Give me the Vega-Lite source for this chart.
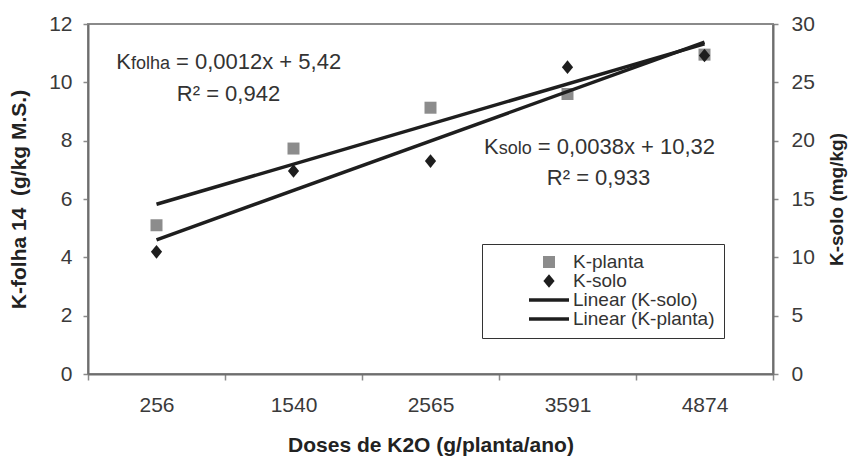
{
  "$schema": "https://vega.github.io/schema/vega-lite/v6.json",
  "width": 685,
  "height": 350,
  "autosize": {"type": "none"},
  "padding": {"left": 88, "top": 24, "right": 77, "bottom": 82},
  "background": "white",
  "config": {
    "font": "Liberation Sans",
    "view": {"stroke": "#8a8a8a", "strokeWidth": 2},
    "axis": {
      "grid": false,
      "domainColor": "#6e6e6e",
      "domainWidth": 2,
      "tickColor": "#8a8a8a",
      "tickWidth": 1.5,
      "labelFont": "Liberation Sans",
      "labelFontSize": 21,
      "labelColor": "#3a3a3a",
      "titleFont": "Liberation Sans",
      "titleFontSize": 21,
      "titleFontWeight": "bold",
      "titleColor": "#222222"
    },
    "text": {"font": "Liberation Sans", "color": "#333333"}
  },
  "datasets": {
    "points": [
      {"dose": 256, "series": "K-planta", "value": 5.1},
      {"dose": 1540, "series": "K-planta", "value": 7.73},
      {"dose": 2565, "series": "K-planta", "value": 9.13},
      {"dose": 3591, "series": "K-planta", "value": 9.6},
      {"dose": 4874, "series": "K-planta", "value": 10.95},
      {"dose": 256, "series": "K-solo", "value": 10.47},
      {"dose": 1540, "series": "K-solo", "value": 17.4},
      {"dose": 2565, "series": "K-solo", "value": 18.25},
      {"dose": 3591, "series": "K-solo", "value": 26.3},
      {"dose": 4874, "series": "K-solo", "value": 27.3}
    ],
    "trends": [
      {"dose": 256, "series": "Linear (K-planta)", "value": 5.82},
      {"dose": 4874, "series": "Linear (K-planta)", "value": 11.32},
      {"dose": 256, "series": "Linear (K-solo)", "value": 11.5},
      {"dose": 4874, "series": "Linear (K-solo)", "value": 28.45}
    ],
    "notes": [
      {"id": "k1", "dose": 256, "value": 10.47, "text": "K"},
      {"id": "sub1", "dose": 256, "value": 10.47, "text": "folha"},
      {"id": "eq1", "dose": 256, "value": 10.47, "text": "= 0,0012x + 5,42"},
      {"id": "r1", "dose": 256, "value": 9.36, "text": "R² = 0,942"},
      {"id": "k2", "dose": 3591, "value": 7.56, "text": "K"},
      {"id": "sub2", "dose": 3591, "value": 7.56, "text": "solo"},
      {"id": "eq2", "dose": 3591, "value": 7.56, "text": "= 0,0038x + 10,32"},
      {"id": "r2", "dose": 3591, "value": 6.47, "text": "R² = 0,933"}
    ]
  },
  "encoding": {
    "x": {
      "field": "dose",
      "type": "ordinal",
      "scale": {"type": "band", "paddingInner": 0, "paddingOuter": 0},
      "axis": {
        "title": "Doses de K2O (g/planta/ano)",
        "tickBand": "extent",
        "labelAngle": 0,
        "tickSize": 6,
        "labelPadding": 14,
        "titlePadding": 19
      }
    }
  },
  "layer": [
    {
      "encoding": {
        "y": {
          "field": "value",
          "type": "quantitative",
          "scale": {"domain": [0, 12]},
          "axis": {
            "title": "K-folha 14\u00a0 (g/kg M.S.)",
            "values": [0, 2, 4, 6, 8, 10, 12],
            "tickSize": 5,
            "labelPadding": 11,
            "titlePadding": 19
          }
        }
      },
      "layer": [
        {
          "data": {"name": "trends"},
          "transform": [{"filter": "datum.series === 'Linear (K-planta)'"}],
          "mark": {"type": "line", "stroke": "#1e1e1e", "strokeWidth": 3.5},
          "encoding": {}
        },
        {
          "data": {"name": "points"},
          "transform": [{"filter": "datum.series === 'K-planta'"}],
          "mark": {"type": "point", "filled": true, "size": 1600, "opacity": 1, "strokeWidth": 0},
          "encoding": {
            "color": {
              "field": "series",
              "type": "nominal",
              "scale": {
                "domain": ["K-planta", "K-solo", "Linear (K-solo)", "Linear (K-planta)"],
                "range": ["#8c8c8c", "#1e1e1e", "#1e1e1e", "#1e1e1e"]
              },
              "legend": {
                "title": null,
                "orient": "none",
                "legendX": 394,
                "legendY": 220,
                "symbolSize": 1600,
                "symbolStrokeWidth": 0,
                "symbolOffset": 38,
                "labelOffset": 4,
                "clipHeight": 18,
                "rowPadding": -1,
                "padding": 9,
                "labelFont": "Liberation Sans",
                "labelFontSize": 19,
                "labelColor": "#333333",
                "strokeColor": "#333333"
              }
            },
            "shape": {
              "field": "series",
              "type": "nominal",
              "scale": {
                "domain": ["K-planta", "K-solo", "Linear (K-solo)", "Linear (K-planta)"],
                "range": [
                  "M-0.3,-0.3L0.3,-0.3L0.3,0.3L-0.3,0.3Z",
                  "M0,-0.34L0.28,0L0,0.34L-0.28,0Z",
                  "M-1,-0.09L1,-0.09L1,0.09L-1,0.09Z",
                  "M-1,-0.09L1,-0.09L1,0.09L-1,0.09Z"
                ]
              },
              "legend": {
                "title": null,
                "orient": "none",
                "legendX": 394,
                "legendY": 220,
                "symbolSize": 1600,
                "symbolStrokeWidth": 0,
                "symbolOffset": 38,
                "labelOffset": 4,
                "clipHeight": 18,
                "rowPadding": -1,
                "padding": 9,
                "labelFont": "Liberation Sans",
                "labelFontSize": 19,
                "labelColor": "#333333",
                "strokeColor": "#333333"
              }
            }
          }
        },
        {
          "data": {"name": "notes"},
          "transform": [{"filter": "datum.id === 'k1'"}],
          "mark": {"type": "text", "align": "right", "baseline": "alphabetic", "dx": -25.5, "fontSize": 22},
          "encoding": {"text": {"field": "text"}}
        },
        {
          "data": {"name": "notes"},
          "transform": [{"filter": "datum.id === 'sub1'"}],
          "mark": {"type": "text", "align": "right", "baseline": "alphabetic", "dx": 13.5, "fontSize": 18},
          "encoding": {"text": {"field": "text"}}
        },
        {
          "data": {"name": "notes"},
          "transform": [{"filter": "datum.id === 'eq1'"}],
          "mark": {"type": "text", "align": "left", "baseline": "alphabetic", "dx": 19.5, "fontSize": 22},
          "encoding": {"text": {"field": "text"}}
        },
        {
          "data": {"name": "notes"},
          "transform": [{"filter": "datum.id === 'r1'"}],
          "mark": {"type": "text", "align": "center", "baseline": "alphabetic", "dx": 72, "fontSize": 22},
          "encoding": {"text": {"field": "text"}}
        },
        {
          "data": {"name": "notes"},
          "transform": [{"filter": "datum.id === 'k2'"}],
          "mark": {"type": "text", "align": "right", "baseline": "alphabetic", "dx": -68.8, "fontSize": 22},
          "encoding": {"text": {"field": "text"}}
        },
        {
          "data": {"name": "notes"},
          "transform": [{"filter": "datum.id === 'sub2'"}],
          "mark": {"type": "text", "align": "right", "baseline": "alphabetic", "dx": -35.8, "fontSize": 18},
          "encoding": {"text": {"field": "text"}}
        },
        {
          "data": {"name": "notes"},
          "transform": [{"filter": "datum.id === 'eq2'"}],
          "mark": {"type": "text", "align": "left", "baseline": "alphabetic", "dx": -29.8, "fontSize": 22},
          "encoding": {"text": {"field": "text"}}
        },
        {
          "data": {"name": "notes"},
          "transform": [{"filter": "datum.id === 'r2'"}],
          "mark": {"type": "text", "align": "center", "baseline": "alphabetic", "dx": 31, "fontSize": 22},
          "encoding": {"text": {"field": "text"}}
        }
      ]
    },
    {
      "encoding": {
        "y": {
          "field": "value",
          "type": "quantitative",
          "scale": {"domain": [0, 30]},
          "axis": {
            "orient": "right",
            "title": "K-solo (mg/kg)",
            "titleAngle": 270,
            "titleBaseline": "top",
            "titleFontSize": 19,
            "values": [0, 5, 10, 15, 20, 25, 30],
            "tickSize": 5,
            "labelPadding": 13,
            "titlePadding": 13
          }
        }
      },
      "layer": [
        {
          "data": {"name": "trends"},
          "transform": [{"filter": "datum.series === 'Linear (K-solo)'"}],
          "mark": {"type": "line", "stroke": "#1e1e1e", "strokeWidth": 3.5},
          "encoding": {}
        },
        {
          "data": {"name": "points"},
          "transform": [{"filter": "datum.series === 'K-solo'"}],
          "mark": {"type": "point", "filled": true, "size": 1600, "opacity": 1, "strokeWidth": 0},
          "encoding": {
            "color": {"field": "series", "type": "nominal"},
            "shape": {"field": "series", "type": "nominal"}
          }
        }
      ]
    }
  ],
  "resolve": {"scale": {"y": "independent"}}
}
